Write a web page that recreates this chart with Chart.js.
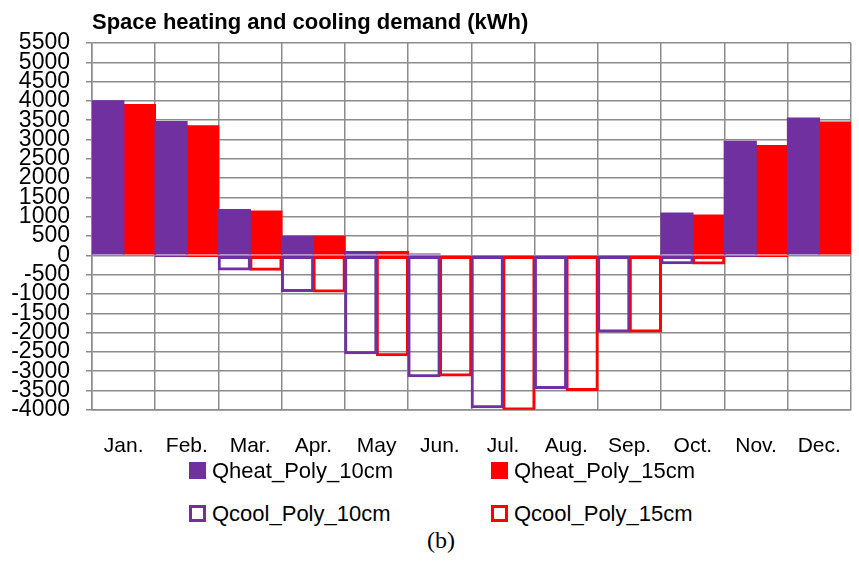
<!DOCTYPE html>
<html>
<head>
<meta charset="utf-8">
<script src="https://cdn.jsdelivr.net/npm/chart.js@4/dist/chart.umd.min.js"></script>
<style>
  html, body { margin: 0; padding: 0; background: #fff; overflow: hidden; }
  #wrap { position: relative; width: 859px; height: 565px; overflow: hidden; background: #fff; }
  #c { position: absolute; left: 0; top: 0; }
  .title { position: absolute; left: 92px; top: 11px; font: bold 22px "Liberation Sans", Arial, sans-serif; line-height: 22px; color: #000; white-space: nowrap; }
  .lg { position: absolute; font: 22px "Liberation Sans", Arial, sans-serif; line-height: 22px; color: #000; white-space: nowrap; }
  .sw { position: absolute; width: 17px; height: 17px; box-sizing: border-box; }
  .cap { position: absolute; left: 341px; width: 200px; top: 528px; text-align: center; font: 24px "Liberation Serif", "Times New Roman", serif; line-height: 24px; color: #000; }
</style>
</head>
<body>
<div id="wrap">
  <canvas id="c" width="865" height="485"></canvas>
  <div class="title">Space heating and cooling demand (kWh)</div>
  <div id="legend"></div>
  <div class="cap">(b)</div>
</div>
<script>
// ---- data ----
const months = ['Jan.', 'Feb.', 'Mar.', 'Apr.', 'May', 'Jun.', 'Jul.', 'Aug.', 'Sep.', 'Oct.', 'Nov.', 'Dec.'];
const qheat10 = [4020, 3480, 1200, 510, 110, 50, 0, 0, 0, 1110, 2970, 3570];
const qheat15 = [3920, 3370, 1160, 510, 110, 20, 0, 0, 0, 1060, 2860, 3470];
const qcool10 = [0, -50, -390, -950, -2560, -3160, -3960, -3460, -2000, -230, -50, 0];
const qcool15 = [0, -50, -400, -960, -2610, -3140, -4020, -3510, -2000, -240, -50, 0];
const seriesNames = ['Qheat_Poly_10cm', 'Qheat_Poly_15cm', 'Qcool_Poly_10cm', 'Qcool_Poly_15cm'];
const yMin = -4000, yMax = 5500, yStep = 500;

const PURPLE = '#7030A0';
const RED = '#FF0000';
const GRID = '#8c8c8c';
const FONT = '"Liberation Sans", Arial, sans-serif';

const datasets = [
  { label: seriesNames[0], data: qheat10, stack: 'a', backgroundColor: PURPLE, borderWidth: 0 },
  { label: seriesNames[1], data: qheat15, stack: 'b', backgroundColor: RED, borderWidth: 0 },
  { label: seriesNames[2], data: qcool10, stack: 'a', backgroundColor: 'rgba(0,0,0,0)', borderColor: PURPLE, borderWidth: 3, borderSkipped: false },
  { label: seriesNames[3], data: qcool15, stack: 'b', backgroundColor: 'rgba(0,0,0,0)', borderColor: RED, borderWidth: 3, borderSkipped: false }
];

new Chart(document.getElementById('c'), {
  type: 'bar',
  data: { labels: months, datasets },
  options: {
    responsive: false,
    animation: false,
    devicePixelRatio: 1,
    barPercentage: 1.05,
    categoryPercentage: 1.0,
    layout: { padding: { left: 0, right: 3, top: 43, bottom: 2 } },
    plugins: { legend: { display: false }, title: { display: false }, tooltip: { enabled: false } },
    scales: {
      x: {
        stacked: true,
        grid: { color: GRID, lineWidth: 1.5, drawTicks: false, offset: true },
        border: { color: GRID, width: 1.5 },
        ticks: { color: '#000', font: { family: FONT, size: 21 }, padding: 24, autoSkip: false, maxRotation: 0, minRotation: 0 }
      },
      y: {
        stacked: true,
        min: yMin, max: yMax,
        grid: { color: GRID, lineWidth: 1.5, tickLength: 6, tickColor: GRID },
        border: { color: GRID, width: 1.5 },
        ticks: {
          stepSize: yStep, autoSkip: false, color: '#000', font: { family: FONT, size: 23 }, padding: 16,
          callback: (v) => String(v)
        },
        afterFit(scale) { scale.width = 92; }
      }
    }
  }
});

// legend (2 x 2 layout as in the reference)
const legendItems = [
  { name: seriesNames[0], fill: PURPLE, line: PURPLE, x: 189, y: 462 },
  { name: seriesNames[1], fill: RED, line: RED, x: 491, y: 462 },
  { name: seriesNames[2], fill: '#fff', line: PURPLE, x: 189, y: 505 },
  { name: seriesNames[3], fill: '#fff', line: RED, x: 491, y: 505 }
];
const lg = document.getElementById('legend');
legendItems.forEach(it => {
  const sw = document.createElement('div');
  sw.className = 'sw';
  sw.style.left = it.x + 'px';
  sw.style.top = it.y + 'px';
  sw.style.background = it.fill;
  sw.style.border = (it.fill === '#fff' ? 3 : 0) + 'px solid ' + it.line;
  lg.appendChild(sw);
  const t = document.createElement('div');
  t.className = 'lg';
  t.textContent = it.name;
  t.style.left = (it.x + 23) + 'px';
  t.style.top = (it.y - 2) + 'px';
  lg.appendChild(t);
});
</script>
</body>
</html>
